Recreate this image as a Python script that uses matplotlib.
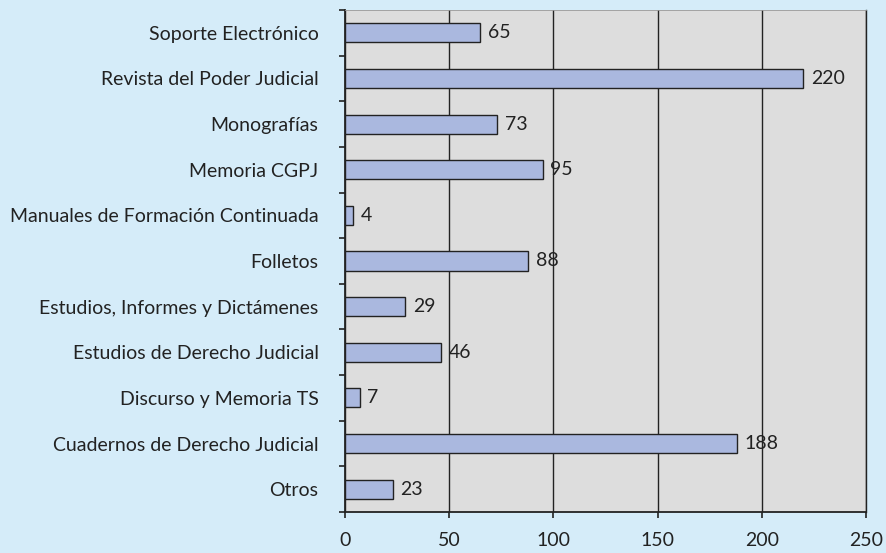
import matplotlib
matplotlib.use("Agg")
import matplotlib.pyplot as plt
import numpy as np

# Data (top to bottom as shown)
CATEGORIES = [
    "Soporte Electrónico",
    "Revista del Poder Judicial",
    "Monografías",
    "Memoria CGPJ",
    "Manuales de Formación Continuada",
    "Folletos",
    "Estudios, Informes y Dictámenes",
    "Estudios de Derecho Judicial",
    "Discurso y Memoria TS",
    "Cuadernos de Derecho Judicial",
    "Otros",
]
VALUES = [65, 220, 73, 95, 4, 88, 29, 46, 7, 188, 23]
X_TICKS = [0, 50, 100, 150, 200, 250]

BG = "#D5ECF9"
PLOT_BG = "#DDDDDD"
BAR = "#AAB8DF"
DARK = "#222222"

plt.rcParams["font.family"] = ["Lato", "DejaVu Sans"]

fig = plt.figure(figsize=(8.86, 5.53), dpi=100)
fig.patch.set_facecolor(BG)
ax = fig.add_axes([345 / 886, 1 - 512 / 553, (866 - 345) / 886, (512 - 10) / 553])
ax.set_facecolor(PLOT_BG)

n = len(CATEGORIES)
y = np.arange(n)[::-1]
ax.barh(y, VALUES, height=0.42, color=BAR, edgecolor=DARK, linewidth=1.0, zorder=3)

for yi, v in zip(y, VALUES):
    ax.text(v + 3.6, yi, str(v), ha="left", va="center", fontsize=14, color=DARK, zorder=4)

ax.set_xlim(0, 250)
ax.set_ylim(-0.5, n - 0.5)
ax.set_xticks(X_TICKS)
ax.set_xticklabels([str(t) for t in X_TICKS], fontsize=14, color=DARK)
ax.set_yticks(y)
ax.set_yticklabels(CATEGORIES, fontsize=14, color=DARK)
ax.tick_params(axis="y", which="major", length=0, pad=19)
ax.set_yticks(np.arange(-0.5, n, 1.0), minor=True)
ax.tick_params(axis="y", which="minor", length=4.5, width=1.2, color=DARK, direction="out")
ax.tick_params(axis="x", which="major", length=4.5, width=1.2, color=DARK, direction="out", pad=10)

ax.xaxis.grid(True, color=DARK, linewidth=1.0, zorder=1)
ax.set_axisbelow(True)

for s in ("left", "bottom"):
    ax.spines[s].set_color(DARK)
    ax.spines[s].set_linewidth(1.3)
ax.spines["top"].set_color("#999999")
ax.spines["top"].set_linewidth(0.6)
ax.spines["right"].set_color(DARK)
ax.spines["right"].set_linewidth(1.0)

fig.savefig("out.png", dpi=100, facecolor=BG)
